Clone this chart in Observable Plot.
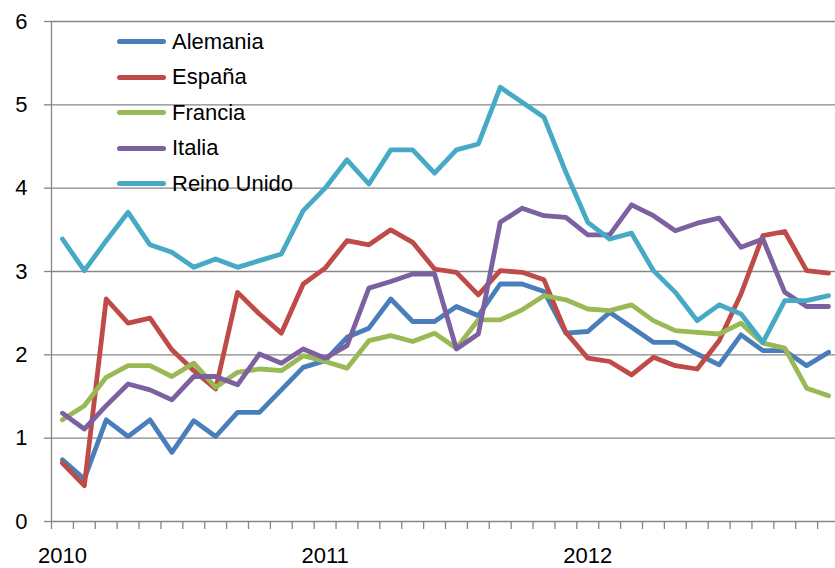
<!DOCTYPE html>
<html>
<head>
<meta charset="utf-8">
<script src="https://cdn.jsdelivr.net/npm/d3@7"></script>
<script src="https://cdn.jsdelivr.net/npm/@observablehq/plot@0.6"></script>
<style>
  html, body { margin: 0; padding: 0; background: #fff; overflow: hidden; }
  #wrap { position: relative; width: 835px; height: 568px; }
  #legend { position: absolute; left: 117px; top: 24px; font-family: "Liberation Sans", Arial, sans-serif; font-size: 22px; color: #000; }
  .row { display: flex; align-items: center; height: 35.5px; }
  .sw { width: 49px; height: 5px; border-radius: 3px; margin-right: 6px; }
</style>
</head>
<body>
<div id="wrap"><div id="legend"></div></div>
<script>
const series = ["Alemania", "España", "Francia", "Italia", "Reino Unido"];
const colors = ["#4A7EBB", "#BE4B48", "#98B954", "#7D60A0", "#46AAC5"];
const yearLabels = ["2010", "2011", "2012"];
const yTicks = [0, 1, 2, 3, 4, 5, 6];

const alemania = [0.74, 0.51, 1.22, 1.02, 1.22, 0.83, 1.21, 1.02, 1.31, 1.31, 1.58, 1.85,
                  1.93, 2.21, 2.32, 2.67, 2.40, 2.40, 2.58, 2.47, 2.85, 2.85, 2.76, 2.26,
                  2.28, 2.51, 2.33, 2.15, 2.15, 2.01, 1.88, 2.24, 2.05, 2.05, 1.87, 2.03];
const espana = [0.70, 0.43, 2.67, 2.38, 2.44, 2.06, 1.81, 1.59, 2.75, 2.49, 2.26, 2.85,
                3.04, 3.37, 3.32, 3.50, 3.35, 3.03, 2.99, 2.72, 3.01, 2.99, 2.90, 2.27,
                1.96, 1.92, 1.76, 1.97, 1.87, 1.83, 2.17, 2.73, 3.43, 3.48, 3.01, 2.98];
const francia = [1.22, 1.39, 1.73, 1.87, 1.87, 1.74, 1.90, 1.61, 1.79, 1.83, 1.81, 1.99,
                 1.92, 1.84, 2.17, 2.23, 2.16, 2.26, 2.08, 2.42, 2.42, 2.54, 2.71, 2.66,
                 2.55, 2.53, 2.60, 2.41, 2.29, 2.27, 2.25, 2.38, 2.14, 2.08, 1.60, 1.51];
const italia = [1.30, 1.11, 1.39, 1.65, 1.58, 1.46, 1.74, 1.74, 1.64, 2.01, 1.90, 2.07,
                1.96, 2.11, 2.80, 2.88, 2.97, 2.97, 2.07, 2.25, 3.59, 3.76, 3.67, 3.65,
                3.44, 3.44, 3.80, 3.67, 3.49, 3.58, 3.64, 3.29, 3.39, 2.75, 2.58, 2.58];
const reinoUnido = [3.39, 3.01, 3.37, 3.71, 3.32, 3.23, 3.05, 3.15, 3.05, 3.13, 3.21, 3.73,
                    4.00, 4.34, 4.05, 4.46, 4.46, 4.18, 4.46, 4.53, 5.21, 5.03, 4.85, 4.19,
                    3.59, 3.39, 3.46, 3.01, 2.75, 2.41, 2.60, 2.49, 2.15, 2.65, 2.65, 2.71];

const values = [alemania, espana, francia, italia, reinoUnido];
const data = values.flatMap((arr, s) => arr.map((v, i) => ({serie: series[s], i, v})));
const nMonths = alemania.length;
const catTicks = d3.range(-0.5, nMonths + 0.5, 1);
const grey = "#868686";

const chart = Plot.plot({
  width: 835,
  height: 568,
  marginTop: 21, marginBottom: 47, marginLeft: 51, marginRight: 0,
  x: {type: "linear", domain: [-0.5, nMonths - 0.5], range: [51, 839]},
  y: {domain: [0, 6], range: [521, 21]},
  color: {domain: series, range: colors},
  style: {fontFamily: "Liberation Sans, Arial, sans-serif", fontSize: "22px", color: "#000", background: "white", overflow: "hidden"},
  marks: [
    Plot.ruleY(yTicks, {stroke: grey, strokeWidth: 1.3}),
    Plot.ruleX([-0.5], {y1: 0, y2: 6, stroke: grey, strokeWidth: 1.3}),
    Plot.axisY(yTicks, {anchor: "left", tickSize: 7, tickPadding: 17, tickFormat: d => String(d), stroke: grey, strokeWidth: 1.3, fill: "#000", fontSize: 22, label: null}),
    Plot.axisX(catTicks, {anchor: "bottom", tickSize: 8, tickFormat: () => "", stroke: grey, strokeWidth: 1.3, label: null}),
    Plot.axisX([0, 12, 24], {anchor: "bottom", tickSize: 0, tickPadding: 26, tickFormat: d => yearLabels[d / 12], fill: "#000", fontSize: 22, label: null}),
    Plot.line(data, {x: "i", y: "v", z: "serie", stroke: "serie", strokeWidth: 4.8, strokeLinejoin: "round", strokeLinecap: "round"})
  ]
});
document.getElementById("wrap").prepend(chart);

const legend = document.getElementById("legend");
series.forEach((s, k) => {
  const row = document.createElement("div");
  row.className = "row";
  const sw = document.createElement("span");
  sw.className = "sw";
  sw.style.background = colors[k];
  const t = document.createElement("span");
  t.textContent = s;
  row.append(sw, t);
  legend.append(row);
});
</script>
</body>
</html>
